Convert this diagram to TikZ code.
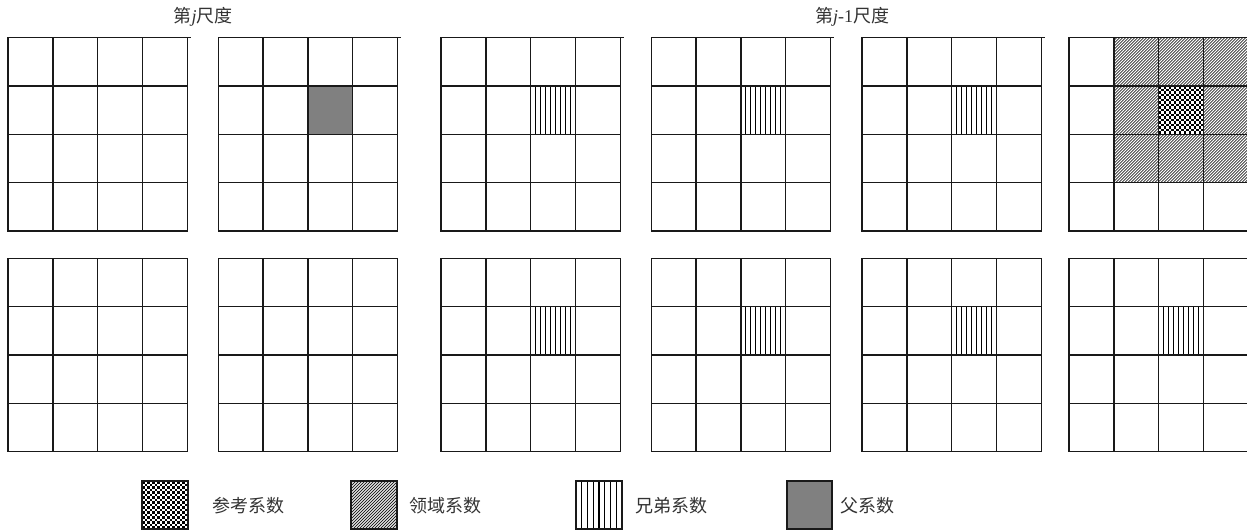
\documentclass[tikz,border=0pt]{standalone}
\usepackage{fontspec}
\setmainfont{Liberation Serif}
\newfontfamily\cjk{Noto Sans CJK SC}
\tikzset{
  gridline/.style={line width=1.4pt, draw=black!90},
  hatchline/.style={line width=0.8pt, draw=black!85},
  vline/.style={line width=1.2pt, draw=black},
  lbl/.style={font=\fontsize{18}{21}\selectfont, inner sep=0pt, text=black!80},
}
\newcommand\cw{44.8}
\newcommand\ch{48.3}
% grid at top-left (#1,#2)
\newcommand\gridat[2]{%
  \draw[gridline] (#1,#2) rectangle ++(179.2,193.2);
  \foreach \i in {1,2,3}{%
    \draw[gridline] ({#1+\i*\cw},#2) -- ++(0,193.2);
    \draw[gridline] (#1,{#2+\i*\ch}) -- ++(179.2,0);
  }%
}
% vertical-line cell of size (#3,#4), #5 interior lines
\newcommand\vlcell[5]{%
  \foreach \k in {1,...,#5}{%
    \draw[vline] ({#1+\k*#3/(#5+1)},#2) -- ++(0,#4);
  }%
}
% diagonal hatch region
\newcommand\hatchreg[4]{%
  \begin{scope}
    \clip (#1,#2) rectangle ++(#3,#4);
    \foreach \t in {-160,-157,...,160}{%
      \draw[hatchline] ({#1+\t},{#2+#4}) -- ++({#4+10},{-(#4+10)});
    }%
  \end{scope}%
}
% checker cell
\newcommand\checkcell[4]{%
  \begin{scope}
    \clip (#1,#2) rectangle ++(#3,#4);
    \fill[white] (#1,#2) rectangle ++(#3,#4);
    \foreach \a in {0,...,19}{%
      \foreach \b in {0,...,20}{%
        \pgfmathtruncatemacro\chkpar{mod(\a+\b,2)}%
        \ifnum\chkpar=0
          \fill[black] ({#1+\a*2.5},{#2+\b*2.5}) rectangle ++(2.5,2.5);
        \fi
      }%
    }%
  \end{scope}%
}
\begin{document}
\begin{tikzpicture}[x=1pt,y=-1pt]
\useasboundingbox (0,0) rectangle (1247,531);
\fill[white] (0,0) rectangle (1247,531);
\begin{scope}
\clip (0,0) rectangle (1247,531);

% labels
\node[lbl] (scalej) at (203,17) {{\cjk 第}\textit{j}{\cjk 尺度}};
\node[lbl] (scalej1) at (852,17) {{\cjk 第}\textit{j}-1{\cjk 尺度}};

% ---- top row fills
\fill[black!50] ({218.3+2*\cw},{37.7+\ch}) rectangle ++(\cw,\ch);
\vlcell{441+2*44.8}{86}{44.8}{48.3}{8}
\vlcell{651.3+2*44.8}{86}{44.8}{48.3}{8}
\vlcell{862+2*44.8}{86}{44.8}{48.3}{8}
\hatchreg{1069+44.8}{37.7}{140}{144.9}
\checkcell{1069+2*44.8}{86}{44.8}{48.3}

% ---- bottom row fills
\vlcell{441+2*44.8}{306.6}{44.8}{48.3}{8}
\vlcell{651.3+2*44.8}{306.6}{44.8}{48.3}{8}
\vlcell{862+2*44.8}{306.6}{44.8}{48.3}{8}
\vlcell{1069+2*44.8}{306.6}{44.8}{48.3}{8}

% ---- grids
\foreach \gx in {8,218.3,441,651.3,862,1069}{%
  \gridat{\gx}{37.7}
  \draw[gridline] ({\gx+179.2},37.7) -- ++(3.5,0);
  \gridat{\gx}{258.3}
}

% ---- legend
\checkcell{142}{481}{46}{48}
\draw[gridline] (142,481) rectangle ++(46,48);
\node[lbl, anchor=west] (lref) at (212,506) {\cjk 参考系数};

\hatchreg{351}{481}{46}{48}
\draw[gridline] (351,481) rectangle ++(46,48);
\node[lbl, anchor=west] (lnbr) at (409,506) {\cjk 领域系数};

\vlcell{576}{481}{46}{48}{7}
\draw[gridline] (576,481) rectangle ++(46,48);
\node[lbl, anchor=west] (lsib) at (635,506) {\cjk 兄弟系数};

\fill[black!50] (787,481) rectangle ++(45,48);
\draw[gridline] (787,481) rectangle ++(45,48);
\node[lbl, anchor=west] (lpar) at (840,506) {\cjk 父系数};
\end{scope}
\end{tikzpicture}
\end{document}
